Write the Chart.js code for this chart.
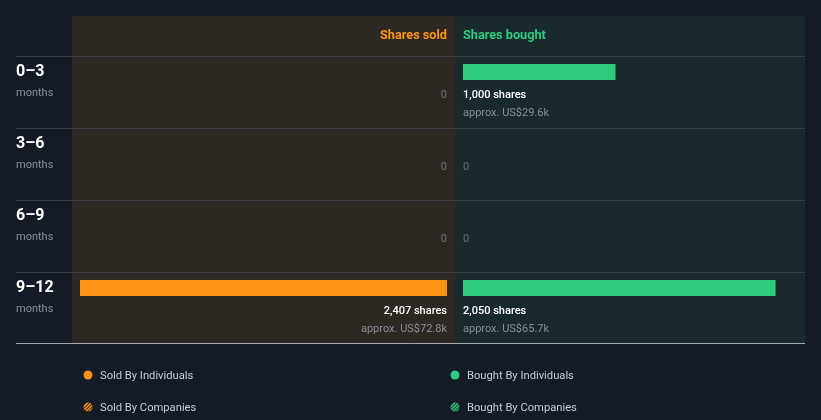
<!DOCTYPE html>
<html><head><meta charset="utf-8">
<script src="https://cdn.jsdelivr.net/npm/chart.js@4/dist/chart.umd.min.js"></script>
<style>html,body{margin:0;padding:0;background:#151b26;overflow:hidden}#wrap{width:821px;height:420px;position:relative}</style>
</head><body><div id="wrap"><canvas id="c" width="821" height="420"></canvas></div>
<script>
// ---- data ----
const periods = ['0–3', '3–6', '6–9', '9–12'];
const periodUnit = 'months';
const soldByIndividuals = [0, 0, 0, 2407];
const boughtByIndividuals = [1000, 0, 0, 2050];
const soldByCompanies = [0, 0, 0, 0];
const boughtByCompanies = [0, 0, 0, 0];
const soldValueUSDk = [0, 0, 0, 72.8];
const boughtValueUSDk = [29.6, 0, 0, 65.7];
const columnHeaders = ['Shares sold', 'Shares bought'];
const legendLabels = ['Sold By Individuals', 'Sold By Companies', 'Bought By Individuals', 'Bought By Companies'];

// ---- style ----
const ORANGE = '#ff9416', GREEN = '#2ecc80';
const SOLD_BG = '#2e2823', BOUGHT_BG = '#182a2e', PAGE_BG = '#151b26';
const FONT = 'Roboto, "Open Sans", sans-serif';
const SPLIT_RATIO = 383 / 733, GAP = 8, BAR_CENTER = 16;

const maxShares = Math.max(...soldByIndividuals, ...boughtByIndividuals, ...soldByCompanies, ...boughtByCompanies);
const fmt = n => n.toLocaleString('en-US');

const layoutPlugin = {
  id: 'insiderLayout',
  afterLayout(chart) {
    const ca = chart.chartArea;
    const xs = chart.scales.x, xb = chart.scales.xb, y = chart.scales.y;
    const split = ca.left + Math.round(ca.width * SPLIT_RATIO);
    xs.left = ca.left + GAP; xs.right = split - GAP; xs.configure();
    xb.left = split + GAP; xb.right = xb.left + (xs.right - xs.left); xb.configure();
    const rowH = ca.height / periods.length;
    y.top = ca.top + BAR_CENTER - rowH / 2; y.bottom = y.top + ca.height; y.configure();
    chart.$split = split; chart.$rowH = rowH;
  },
  beforeDraw(chart) {
    const ctx = chart.ctx, ca = chart.chartArea, split = chart.$split;
    ctx.save();
    ctx.fillStyle = PAGE_BG; ctx.fillRect(0, 0, chart.width, chart.height);
    ctx.fillStyle = SOLD_BG; ctx.fillRect(ca.left, 16, split - ca.left, ca.bottom - 16);
    ctx.fillStyle = BOUGHT_BG; ctx.fillRect(split, 16, ca.right - split, ca.bottom - 16);
    ctx.strokeStyle = '#3a3f45'; ctx.lineWidth = 1;
    for (let i = 0; i < periods.length; i++) {
      const yy = Math.round(ca.top + i * chart.$rowH) + 0.5;
      ctx.beginPath(); ctx.moveTo(16, yy); ctx.lineTo(ca.right, yy); ctx.stroke();
    }
    ctx.strokeStyle = '#a3a8ad';
    const yb = Math.round(ca.bottom) - 0.5;
    ctx.beginPath(); ctx.moveTo(16, yb); ctx.lineTo(ca.right, yb); ctx.stroke();
    ctx.restore();
  },
  afterDatasetsDraw(chart) {
    const ctx = chart.ctx, ca = chart.chartArea, rowH = chart.$rowH;
    const x0s = chart.scales.x.getPixelForValue(0), x0b = chart.scales.xb.getPixelForValue(0);
    ctx.save();
    ctx.textBaseline = 'middle';
    // headers
    ctx.font = 'bold 12.7px ' + FONT;
    ctx.fillStyle = ORANGE; ctx.textAlign = 'right'; ctx.fillText(columnHeaders[0], x0s, 36);
    ctx.fillStyle = GREEN; ctx.textAlign = 'left'; ctx.fillText(columnHeaders[1], x0b, 36);
    periods.forEach((p, i) => {
      const top = ca.top + i * rowH;
      ctx.textAlign = 'left';
      ctx.font = 'bold 16px ' + FONT; ctx.fillStyle = '#ffffff';
      ctx.fillText(p, 16, top + 16);
      ctx.font = '11px ' + FONT; ctx.fillStyle = '#8b9096';
      ctx.fillText(periodUnit, 16, top + 37);
      const sides = [
        [soldByIndividuals[i] + soldByCompanies[i], soldValueUSDk[i], x0s, 'right'],
        [boughtByIndividuals[i] + boughtByCompanies[i], boughtValueUSDk[i], x0b, 'left']
      ];
      sides.forEach(([v, usd, x, align]) => {
        ctx.textAlign = align;
        if (v > 0) {
          ctx.font = '500 11px ' + FONT; ctx.fillStyle = '#ffffff';
          ctx.fillText(fmt(v) + ' shares', x, top + 39);
          ctx.font = '11px ' + FONT; ctx.fillStyle = '#8b9096';
          ctx.fillText('approx. US$' + usd.toFixed(1) + 'k', x, top + 57);
        } else {
          ctx.font = '11px ' + FONT; ctx.fillStyle = '#6c7075';
          ctx.fillText('0', x, top + 39);
        }
      });
    });
    // legend
    const cols = [88, 455], rows = [376, 408];
    const items = [[0, 0, ORANGE, false], [0, 1, ORANGE, true], [1, 0, GREEN, false], [1, 1, GREEN, true]];
    items.forEach(([c, r, col, hatch], k) => {
      const cx = cols[c], cy = rows[r];
      ctx.save();
      ctx.beginPath(); ctx.arc(cx, cy - 1, 4.5, 0, Math.PI * 2);
      if (!hatch) { ctx.fillStyle = col; ctx.fill(); }
      else {
        ctx.fillStyle = col === GREEN ? '#1c3a30' : '#3a2f22';
        ctx.fill(); ctx.clip();
        ctx.strokeStyle = col; ctx.lineWidth = 1.4;
        for (let d = -8; d <= 8; d += 3.5) {
          ctx.beginPath(); ctx.moveTo(cx + d - 6, cy + 5); ctx.lineTo(cx + d + 6, cy - 7); ctx.stroke();
        }
      }
      ctx.restore();
      ctx.font = '11.2px ' + FONT; ctx.fillStyle = '#c9cdd2'; ctx.textAlign = 'left';
      ctx.fillText(legendLabels[k], cx + 12, cy);
    });
    ctx.restore();
  }
};

new Chart(document.getElementById('c'), {
  type: 'bar',
  data: {
    labels: periods,
    datasets: [
      { label: legendLabels[0], data: soldByIndividuals, xAxisID: 'x', yAxisID: 'y', backgroundColor: ORANGE },
      { label: legendLabels[1], data: soldByCompanies, xAxisID: 'x', yAxisID: 'y', backgroundColor: ORANGE },
      { label: legendLabels[2], data: boughtByIndividuals, xAxisID: 'xb', yAxisID: 'y', backgroundColor: GREEN },
      { label: legendLabels[3], data: boughtByCompanies, xAxisID: 'xb', yAxisID: 'y', backgroundColor: GREEN }
    ]
  },
  options: {
    indexAxis: 'y',
    responsive: false,
    animation: false,
    events: [],
    layout: { padding: { left: 72, right: 16, top: 56, bottom: 76 } },
    datasets: { bar: { grouped: false, barThickness: 16, borderWidth: 0, borderSkipped: false, inflateAmount: 0 } },
    plugins: { legend: { display: false }, tooltip: { enabled: false } },
    scales: {
      y: { type: 'category', labels: periods, offset: true, display: false },
      x: { type: 'linear', axis: 'x', position: 'bottom', reverse: true, min: 0, max: maxShares, display: false },
      xb: { type: 'linear', axis: 'x', position: 'bottom', min: 0, max: maxShares, display: false }
    }
  },
  plugins: [layoutPlugin]
});
</script></body></html>
